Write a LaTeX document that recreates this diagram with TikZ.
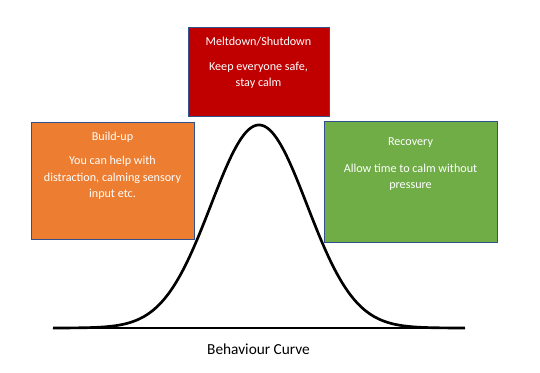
\documentclass[tikz,border=0pt]{standalone}
\usepackage{fontspec}
\setmainfont{Carlito}
\definecolor{redbox}{HTML}{C00000}
\definecolor{orangebox}{HTML}{ED7D31}
\definecolor{greenbox}{HTML}{70AD47}
\definecolor{boxline}{HTML}{2F528F}
\begin{document}
\begin{tikzpicture}[x=0.75pt,y=-0.75pt,
  stagebox/.style={draw=boxline, line width=0.75pt, inner sep=0pt},
  boxtext/.style={text=white, font=\fontsize{9.1pt}{12.3pt}\selectfont, align=center, inner sep=0pt},
  curvelabel/.style={text=black, font=\fontsize{11.5pt}{13pt}\selectfont, inner sep=0pt}]
\useasboundingbox (0,0) rectangle (540,372);
% boxes
\node[stagebox, fill=redbox, minimum width=105.75pt, minimum height=66.75pt] (melt) at (258.5,71.5) {};
\node[stagebox, fill=orangebox, minimum width=122.25pt, minimum height=87.75pt] (build) at (112.5,180.5) {};
\node[stagebox, fill=greenbox, minimum width=129.75pt, minimum height=90.75pt] (recov) at (410.5,181.5) {};
% texts
\node[boxtext] (meltT) at (258.5,42) {Meltdown/Shutdown};
\node[boxtext] (meltB) at (258.5,75.5) {Keep everyone safe,\\stay calm};
\node[boxtext] (buildT) at (112.5,137) {Build-up};
\node[boxtext] (buildB) at (112.5,178) {You can help with\\distraction, calming sensory\\input etc.};
\node[boxtext] (recovT) at (410.5,143) {Recovery};
\node[boxtext] (recovB) at (410.5,177.5) {Allow time to calm without\\pressure};
% baseline and curve
\coordinate (bl) at (53,328);
\coordinate (br) at (465,328);
\draw[line width=0.8pt, black] (bl) -- (br);
\draw[line width=2pt, black, line join=round] plot[domain=53:465, samples=200, smooth] (\x, {328-203*exp(-0.5*((\x-259)/48)^2)});
\node[curvelabel] (lbl) at (258.5,349) {Behaviour Curve};
\end{tikzpicture}
\end{document}
